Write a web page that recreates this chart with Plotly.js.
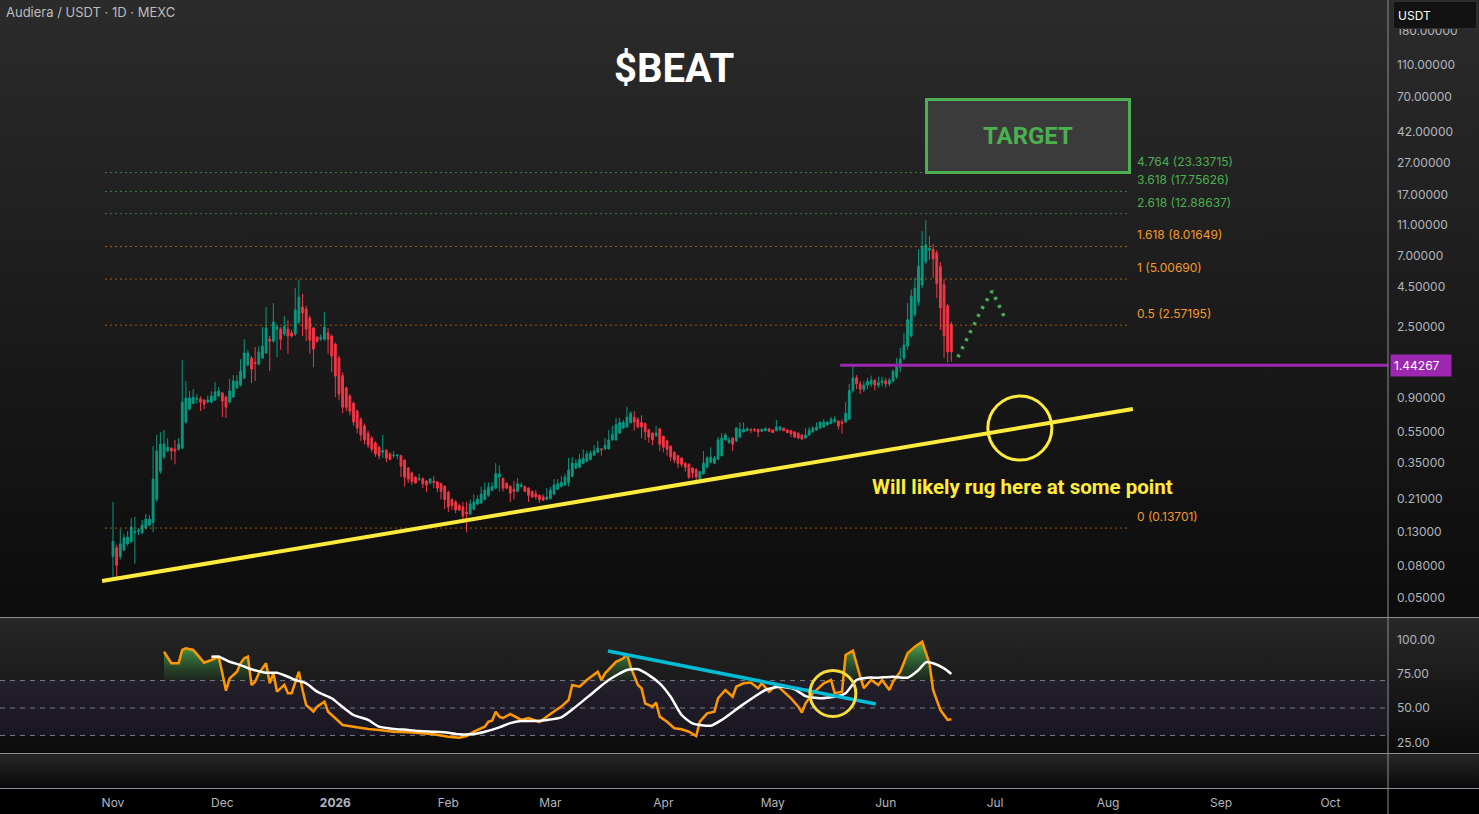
<!DOCTYPE html>
<html><head><meta charset="utf-8">
<script src="https://cdn.plot.ly/plotly-3.0.1.min.js"></script>
<style>
html,body{margin:0;padding:0;background:#000;overflow:hidden;}
#chart{width:1479px;height:814px;background:linear-gradient(to bottom,#2b2b2b 0px,#0c0c0c 617px,#282828 618px,#0b0b0b 753px,#262626 755px,#0a0a0a 788px,#000 789px,#000 814px);}
</style></head><body><div id="chart"></div>
<script>
// ---------- DATA ----------
const firstDay = Date.UTC(2025, 10, 1); // 2025-11-01, one candle per day

const openP = [
.091,.103,.091,.100,.109,.113,.128,.131,.128,.137,
.143,.149,.208,.312,.383,.417,.435,.428,.428,.435,
.634,.765,.830,.880,.885,.872,.846,.846,.872,.923,
.965,.910,.846,.910,1.040,1.082,1.197,1.445,1.599,1.500,
1.466,1.599,1.720,2.100,2.040,2.430,2.430,2.260,2.430,2.300,
2.260,2.690,3.340,3.250,2.850,2.470,2.160,2.100,2.100,2.300,
2.200,1.950,1.600,1.240,1.036,.923,.833,.743,.660,.600,
.540,.503,.470,.440,.410,.420,.400,.390,.390,.390,
.366,.326,.304,.286,.276,.280,.270,.263,.270,.267,
.260,.250,.230,.207,.200,.190,.186,.173,.168,.180,
.194,.197,.207,.220,.237,.244,.286,.280,.262,.250,
.240,.233,.250,.250,.244,.233,.225,.220,.215,.207,
.210,.224,.240,.250,.255,.265,.290,.326,.330,.350,
.360,.370,.393,.410,.430,.430,.430,.490,.490,.540,
.580,.590,.630,.680,.660,.630,.620,.566,.540,.520,
.575,.517,.483,.448,.410,.390,.377,.350,.344,.326,
.320,.280,.300,.330,.355,.350,.370,.390,.490,.470,
.503,.483,.510,.550,.560,.570,.570,.570,.555,.560,
.575,.565,.560,.565,.580,.565,.560,.550,.540,.526,
.503,.526,.550,.565,.580,.590,.610,.620,.634,.643,
.634,.634,.660,1.000,1.200,1.100,1.020,1.080,1.100,1.160,
1.080,1.120,1.150,1.100,1.150,1.220,1.400,1.600,1.900,2.200,
3.000,3.600,4.600,6.400,7.600,7.700,7.300,6.000,4.600,3.400,
2.600];
const highP = [
.200,.108,.135,.126,.131,.158,.161,.137,.154,.168,
.165,.448,.526,.548,.565,.503,.440,.490,.503,1.554,
1.146,.993,1.020,.950,.920,.880,.930,.990,1.130,1.050,
.980,.930,1.180,1.251,1.251,1.575,2.100,1.800,1.646,1.874,
1.900,2.500,3.340,2.200,3.540,2.600,2.500,2.930,2.760,2.400,
4.400,4.960,4.050,3.400,2.950,2.500,2.200,2.250,3.100,2.470,
2.250,2.000,1.650,1.300,1.060,.950,.850,.760,.680,.620,
.560,.520,.480,.450,.526,.430,.410,.417,.400,.395,
.370,.330,.310,.290,.300,.285,.275,.282,.290,.270,
.265,.255,.235,.211,.205,.195,.200,.200,.207,.223,
.220,.250,.265,.265,.265,.350,.340,.285,.265,.255,
.270,.282,.265,.253,.247,.235,.237,.222,.223,.244,
.248,.278,.278,.290,.300,.377,.383,.370,.400,.428,
.420,.420,.454,.483,.435,.503,.565,.600,.672,.672,
.653,.790,.743,.743,.682,.700,.630,.575,.545,.600,
.580,.520,.490,.450,.415,.395,.380,.355,.350,.330,
.325,.313,.417,.390,.440,.390,.510,.540,.540,.510,
.510,.590,.630,.630,.590,.580,.580,.575,.580,.590,
.580,.570,.653,.600,.585,.570,.565,.555,.545,.530,
.580,.590,.600,.630,.640,.660,.640,.680,.690,.650,
.660,.846,1.100,1.470,1.250,1.150,1.140,1.200,1.240,1.180,
1.220,1.220,1.200,1.200,1.360,1.600,1.850,2.300,3.550,4.300,
5.100,7.700,10.00,11.70,9.300,8.300,7.600,6.400,5.000,3.500,
2.700];
const lowP = [
.067,.066,.087,.098,.106,.110,.082,.124,.125,.134,
.140,.129,.200,.300,.370,.410,.366,.344,.420,.430,
.620,.750,.820,.830,.743,.765,.830,.830,.860,.910,
.682,.672,.830,.900,1.020,1.060,1.180,1.420,1.113,1.146,
1.440,1.580,1.700,1.323,2.000,1.620,1.800,2.200,1.700,2.150,
2.200,2.600,2.200,2.040,1.700,1.400,2.000,2.050,2.050,1.700,
1.300,.910,.870,.720,.743,.700,.600,.540,.483,.460,
.435,.410,.383,.370,.377,.355,.365,.377,.370,.286,
.250,.263,.255,.260,.270,.244,.230,.258,.244,.230,
.207,.180,.173,.178,.170,.175,.148,.129,.165,.177,
.190,.195,.205,.215,.233,.240,.233,.233,.240,.200,
.207,.230,.247,.230,.200,.212,.207,.197,.203,.205,
.207,.220,.238,.247,.253,.250,.285,.320,.325,.345,
.355,.365,.390,.405,.390,.425,.425,.485,.485,.535,
.575,.585,.620,.560,.580,.503,.490,.470,.454,.510,
.417,.410,.390,.360,.350,.326,.330,.310,.278,.280,
.265,.275,.295,.325,.350,.345,.365,.385,.485,.465,
.417,.475,.505,.545,.555,.540,.550,.510,.550,.555,
.550,.540,.555,.560,.555,.540,.510,.503,.496,.490,
.500,.520,.545,.560,.575,.585,.600,.615,.630,.570,
.535,.625,.655,.970,1.020,.950,.980,1.020,1.050,1.000,
1.040,1.060,1.040,1.060,1.120,1.180,1.300,1.550,1.800,2.150,
2.900,3.400,4.400,6.200,6.600,5.100,3.800,2.400,1.600,1.500,
1.520];
const closeP = [
.113,.080,.109,.119,.120,.139,.131,.133,.143,.156,
.156,.278,.417,.461,.461,.441,.417,.417,.461,.846,
.897,.897,.910,.890,.846,.820,.872,.923,.980,.993,
.860,.786,.993,1.146,1.146,1.323,1.720,1.720,1.363,1.480,
1.745,1.900,2.466,2.040,2.690,2.500,2.100,2.530,2.200,2.200,
3.200,3.860,3.070,2.430,2.070,1.820,2.040,2.160,2.500,2.100,
1.646,1.230,.950,.786,.786,.743,.634,.581,.526,.490,
.454,.428,.400,.390,.420,.377,.370,.392,.393,.336,
.286,.278,.268,.263,.280,.260,.255,.278,.265,.244,
.233,.207,.186,.190,.178,.178,.163,.168,.194,.200,
.208,.224,.237,.247,.250,.300,.300,.244,.244,.227,
.233,.260,.255,.233,.220,.215,.215,.207,.205,.215,
.237,.255,.260,.265,.286,.317,.350,.350,.370,.377,
.400,.405,.417,.435,.425,.454,.490,.530,.610,.630,
.630,.680,.720,.634,.590,.590,.550,.510,.490,.540,
.460,.440,.428,.383,.366,.350,.344,.330,.286,.304,
.286,.310,.350,.377,.383,.377,.490,.503,.526,.490,
.460,.581,.570,.570,.575,.565,.565,.550,.570,.575,
.555,.545,.590,.590,.560,.545,.535,.510,.503,.496,
.526,.565,.581,.590,.634,.634,.634,.660,.660,.600,
.625,.720,1.000,1.200,1.100,1.020,1.080,1.140,1.160,1.080,
1.120,1.150,1.100,1.160,1.320,1.420,1.570,1.930,2.780,3.900,
4.400,6.000,8.000,8.200,7.800,6.700,4.700,3.300,2.200,1.750,
1.750];

// RSI (orange) and its moving average (white), keyed by day offset from 2025-11-01
const rsiDays = [14,16,18,19,20,22,24,25,27,29,30,31,32,34,35,36,37,38,39,40,42,43,44,45,47,48,49,51,52,53,55,56,58,59,61,63,66,70,73,77,81,84,88,92,95,97,99,102,103,104,105,106,107,109,112,114,117,120,123,125,126,128,130,133,134,135,138,140,141,142,144,145,146,148,149,150,152,154,156,158,160,161,163,165,166,168,170,171,173,175,177,178,180,182,183,186,188,189,190,192,195,197,198,200,201,203,205,206,208,210,211,213,214,216,218,220,222,224,225,227,229,230];
const rsiVals = [91,82.6,82.6,92.3,93.5,92.3,86.2,83,85,87.4,75.3,62.6,71.6,76.5,82.6,86.2,87.4,66.8,69.2,75.3,82.6,68,75.3,61.9,66.8,60.7,60.7,76.5,63.1,52.2,47.3,51,54.6,47.3,42.5,37.6,36.4,34.7,34,32.7,32.3,31.6,30.8,29.1,28.4,29.6,32.7,36.4,40,40.7,47.3,43.7,42.7,45.6,41.3,42.7,39.8,45.6,51,55.8,66.8,65.5,70.4,76.5,70.4,75.3,83.7,86.2,89.4,80.1,66.8,64.4,53.4,51,53.9,43.7,40,35.2,34.5,32.7,29.6,40,46.1,47.3,57.1,63.1,58.2,65.5,68,68.5,64.4,68,61.9,66.8,64.4,57.1,51,46.6,53.4,60.7,68,70.4,60.7,61.9,88.6,91.8,72.8,64.4,70.4,66.8,70.4,63.1,69.2,76.5,89.9,94.7,98.3,82.6,63.1,48.5,41.3,41.8];
const maDays = [27,29,32,35,38,42,45,48,50,53,56,60,62,66,70,73,77,81,84,88,92,95,99,102,106,109,112,116,119,123,127,132,136,141,144,147,150,153,156,159,164,167,172,176,179,183,187,190,194,199,201,204,207,210,214,218,221,223,225,228,230];
const maVals = [87.4,87.4,83.7,81.3,78.2,75.7,75.7,72.8,70.4,68,61.9,57.1,52.9,44.9,41.3,36.4,34.7,34,33.2,32.7,32,30.8,31,32.7,35.9,39,40.5,40.5,41.3,43.2,51,61.9,70.4,77.7,78.2,74,68,58.2,44.9,38.8,37.1,41.3,51,58.2,63.1,65.5,63.6,58.7,57.1,58.7,60.7,70.4,72.1,72.1,72.8,72.1,77.7,83.3,82.6,78.9,74.8];
const rsiBands = [70, 50, 30];
const rsiTicks = [25, 50, 75, 100];

// Fibonacci extension
const fibLevels = ['0', '0.5', '1', '1.618', '2.618', '3.618', '4.764'];
const fibPrices = [0.13701, 2.57195, 5.00690, 8.01649, 12.88637, 17.75626, 23.33715];
const fibSpan = [-2.2, 279.0];

// Drawings
const trendDays = [-3.0, 279.8];
const trendPrices = [0.0637, 0.765];
const supportPrice = 1.44267;
const supportStartDay = 199.5;
const projDays = [231.8, 238.2, 241.2, 244.7];
const projPrices = [1.62, 3.20, 4.21, 2.85];
const circleDay = [248.8];
const circlePrice = [0.581];
const rsiTrendDays = [135.8, 209.3];
const rsiTrendVals = [91.5, 52.9];
const rsiCircleDay = [197.5];
const rsiCircleVal = [60.6];

// Axis ticks
const priceTicks = [180, 110, 70, 42, 27, 17, 11, 7, 4.5, 2.5, 0.9, 0.55, 0.35, 0.21, 0.13, 0.08, 0.05];
const monthTicks = ['2025-11-01','2025-12-01','2026-01-01','2026-02-01','2026-03-01','2026-04-01','2026-05-01','2026-06-01','2026-07-01','2026-08-01','2026-09-01','2026-10-01'];
const monthLabels = ['Nov','Dec','<b>2026</b>','Feb','Mar','Apr','May','Jun','Jul','Aug','Sep','Oct'];

// ---------- BUILD ----------
function dayToDate(d){ return new Date(firstDay + d*86400000).toISOString().slice(0,19); }
const candleDates = openP.map((_, i) => dayToDate(i));
const xRange = [dayToDate(-31), dayToDate(349.8)];

const ORANGE = '#f29a2a', GREEN = '#4caf50', YELLOW = '#ffeb3b', PURPLE = '#9c27b0';
const traces = [];

// fib lines
fibPrices.forEach((p, i) => {
  const green = i >= 4;
  traces.push({type:'scatter', mode:'lines', x: fibSpan.map(dayToDate), y:[p, p],
    line:{color: green ? 'rgba(76,175,80,0.65)' : 'rgba(245,140,20,0.6)', width:1, dash:'2px,3px'},
    hoverinfo:'skip', xaxis:'x', yaxis:'y'});
});
// yellow trend line
traces.push({type:'scatter', mode:'lines', x: trendDays.map(dayToDate), y: trendPrices,
  line:{color:YELLOW, width:4}, hoverinfo:'skip', xaxis:'x', yaxis:'y'});
// purple support line
traces.push({type:'scatter', mode:'lines', x:[dayToDate(supportStartDay), xRange[1]], y:[supportPrice, supportPrice],
  line:{color:PURPLE, width:3}, hoverinfo:'skip', xaxis:'x', yaxis:'y'});
// candles
traces.push({type:'candlestick', x:candleDates, open:openP, high:highP, low:lowP, close:closeP,
  increasing:{line:{color:'#089981', width:1}, fillcolor:'#089981'},
  decreasing:{line:{color:'#f23645', width:1}, fillcolor:'#f23645'},
  whiskerwidth:0, hoverinfo:'skip', xaxis:'x', yaxis:'y'});
// projected path
traces.push({type:'scatter', mode:'lines', x: projDays.map(dayToDate), y: projPrices,
  line:{color:GREEN, width:3.5, dash:'3px,6px'}, hoverinfo:'skip', xaxis:'x', yaxis:'y'});
// circle
traces.push({type:'scatter', mode:'markers', x: circleDay.map(dayToDate), y: circlePrice,
  marker:{symbol:'circle-open', size:64, color:YELLOW, line:{color:YELLOW, width:3}}, hoverinfo:'skip', xaxis:'x', yaxis:'y'});

// RSI panel
const rsiX = rsiDays.map(dayToDate);
traces.push({type:'scatter', mode:'lines', x: rsiX, y: rsiVals.map(() => 70), line:{width:0, color:'rgba(0,0,0,0)'},
  hoverinfo:'skip', xaxis:'x', yaxis:'y2'});
traces.push({type:'scatter', mode:'lines', x: rsiX, y: rsiVals.map(v => Math.max(v, 70)), line:{width:0, color:'rgba(0,0,0,0)'},
  fill:'tonexty', fillcolor:'rgba(67,160,71,0.6)',
  fillgradient:{type:'vertical', start:70, stop:98, colorscale:[[0,'rgba(40,100,45,0.15)'],[1,'rgba(76,175,80,1)']]},
  hoverinfo:'skip', xaxis:'x', yaxis:'y2'});
traces.push({type:'scatter', mode:'lines', x: rsiX, y: rsiVals, line:{color:'#ff9800', width:2.5},
  hoverinfo:'skip', xaxis:'x', yaxis:'y2'});
traces.push({type:'scatter', mode:'lines', x: maDays.map(dayToDate), y: maVals, line:{color:'#ffffff', width:2.5, shape:'spline', smoothing:0.6},
  hoverinfo:'skip', xaxis:'x', yaxis:'y2'});
traces.push({type:'scatter', mode:'lines', x: rsiTrendDays.map(dayToDate), y: rsiTrendVals, line:{color:'#00bcd4', width:3.5},
  hoverinfo:'skip', xaxis:'x', yaxis:'y2'});
traces.push({type:'scatter', mode:'markers', x: rsiCircleDay.map(dayToDate), y: rsiCircleVal,
  marker:{symbol:'circle-open', size:46, color:'#f5dc3a', line:{color:'#f5dc3a', width:3}}, hoverinfo:'skip', xaxis:'x', yaxis:'y2'});

// ---------- LAYOUT ----------
const PH = 788;               // plotting height in px (814 - bottom margin)
const py = px => (PH - px) / PH;   // pixel-from-top -> paper y
const pxX = px => px / 1388;       // pixel-from-left -> paper x

const shapes = [
  {type:'rect', xref:'paper', yref:'y2', x0:0, x1:1, y0:30, y1:70, fillcolor:'rgba(126,87,194,0.10)', line:{width:0}, layer:'below'},
  ...rsiBands.map(v => ({type:'line', xref:'paper', yref:'y2', x0:0, x1:1, y0:v, y1:v, line:{color:'#787b86', width:1, dash:'5px,5px'}, layer:'below'})),
  {type:'line', xref:'paper', yref:'paper', x0:0, x1:1479/1388, y0:py(617.5), y1:py(617.5), line:{color:'#8a8d96', width:1}},
  {type:'line', xref:'paper', yref:'paper', x0:0, x1:1479/1388, y0:py(753.5), y1:py(753.5), line:{color:'#8a8d96', width:1}},
  {type:'line', xref:'paper', yref:'paper', x0:0, x1:1479/1388, y0:py(788.5), y1:py(788.5), line:{color:'#8a8d96', width:1}},
  {type:'line', xref:'paper', yref:'paper', x0:1, x1:1, y0:py(814), y1:1, line:{color:'#8a8d96', width:1}}
];

const annotations = [
  {xref:'paper', yref:'paper', x:pxX(4), y:py(12), xanchor:'left', yanchor:'middle', showarrow:false,
   text:'Audiera / USDT · 1D · MEXC', font:{size:13, color:'#bdbdbd', family:'Inter, Roboto, sans-serif'}},
  {xref:'paper', yref:'paper', x:pxX(674), y:py(68), xanchor:'center', yanchor:'middle', showarrow:false,
   text:'<b>$BEAT</b>', font:{size:40, color:'#ffffff', family:'Roboto, sans-serif'}},
  {xref:'paper', yref:'paper', x:pxX(1027.5), y:py(136), xanchor:'center', yanchor:'middle', showarrow:false,
   text:'<b>TARGET</b>', width:200, height:70, borderpad:0, bgcolor:'#3b3b3b', bordercolor:GREEN, borderwidth:3,
   font:{size:24, color:GREEN, family:'Roboto, sans-serif'}},
  {xref:'paper', yref:'paper', x:pxX(1022), y:py(487), xanchor:'center', yanchor:'middle', showarrow:false,
   text:'<b>Will likely rug here at some point</b>', font:{size:20.5, color:YELLOW, family:'Roboto, sans-serif'}},
  {xref:'paper', yref:'paper', x:pxX(1393), y:py(1), xanchor:'left', yanchor:'top', showarrow:false,
   text:'USDT', align:'left', width:74, height:18, borderpad:4, bgcolor:'#121212', bordercolor:'#2f2f2f', borderwidth:1,
   font:{size:12, color:'#ffffff', family:'Inter, Roboto, sans-serif'}},
  {xref:'paper', yref:'y', x:1, xshift:2, y:Math.log10(supportPrice), xanchor:'left', yanchor:'middle', showarrow:false,
   text:supportPrice.toFixed(5), bgcolor:PURPLE, borderpad:3, width:54, align:'left',
   font:{size:12, color:'#ffffff', family:'Inter, Roboto, sans-serif'}},
  ...fibPrices.map((p, i) => ({xref:'x', yref:'y', x:dayToDate(fibSpan[1]), y:Math.log10(p), xanchor:'left', yanchor:'bottom',
   xshift:5, yshift:2, showarrow:false, text:fibLevels[i] + ' (' + p.toFixed(5) + ')',
   font:{size:12, color: i >= 4 ? GREEN : ORANGE, family:'Inter, Roboto, sans-serif'}}))
];

const axisFont = {size:12, color:'#b2b5be', family:'Inter, Roboto, sans-serif'};
const layout = {
  width:1479, height:814,
  margin:{l:0, r:91, t:0, b:26, pad:0},
  paper_bgcolor:'rgba(0,0,0,0)', plot_bgcolor:'rgba(0,0,0,0)',
  showlegend:false, hovermode:false,
  font:{family:'Inter, Roboto, sans-serif', color:'#b2b5be'},
  xaxis:{type:'date', range:xRange, anchor:'free', position:0, domain:[0,1], tickvals:monthTicks, ticktext:monthLabels,
    showgrid:false, zeroline:false, showline:false, ticks:'', ticklabelstandoff:6, tickfont:axisFont,
    rangeslider:{visible:false}, fixedrange:true},
  yaxis:{type:'log', domain:[py(617), 1], range:[-1.4213, 2.4509], side:'right', anchor:'x',
    tickvals:priceTicks, ticktext:priceTicks.map(v => v.toFixed(5)), tickfont:axisFont,
    showgrid:false, zeroline:false, showline:false, ticks:'', ticklabelstandoff:8, fixedrange:true},
  yaxis2:{domain:[py(753), py(618)], range:[17.2, 115.6], side:'right', anchor:'x',
    tickvals:rsiTicks, ticktext:rsiTicks.map(v => v.toFixed(2)), tickfont:axisFont,
    showgrid:false, zeroline:false, showline:false, ticks:'', ticklabelstandoff:8, fixedrange:true},
  shapes:shapes, annotations:annotations
};

Plotly.newPlot('chart', traces, layout, {staticPlot:true, displayModeBar:false});
</script>
</body></html>
